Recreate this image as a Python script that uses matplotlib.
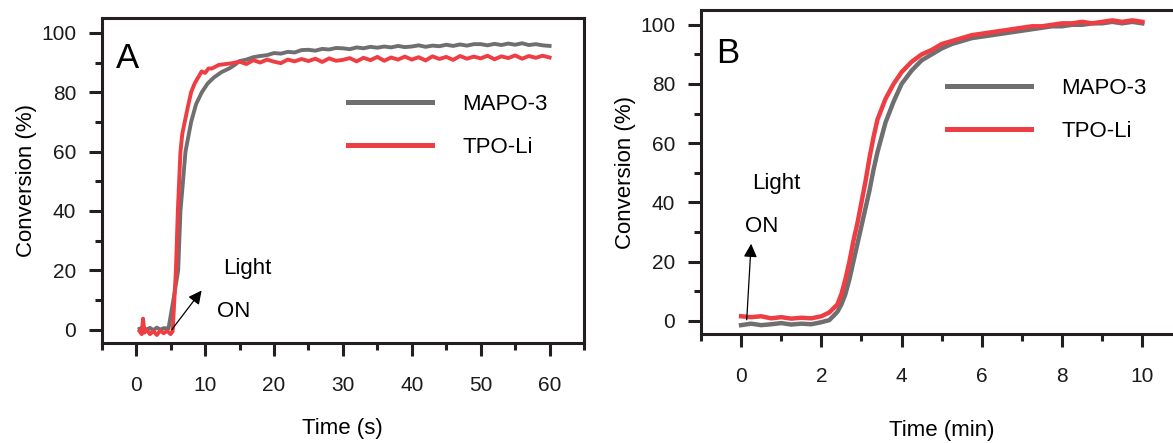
import matplotlib
matplotlib.use("Agg")
import matplotlib.pyplot as plt
from matplotlib.ticker import MultipleLocator

plt.rcParams['font.family'] = ['Liberation Sans', 'DejaVu Sans']

# colours
GRAY = '#6f6f6f'
RED = '#ee3d43'
INK = '#231f20'

## DATA

# panel A, time in s
a_mapo_t = [0.5, 1, 1.5, 2, 2.5, 3, 3.5, 4, 4.7, 5.4, 6.1, 6.43, 6.8, 7.16, 7.98,
            8.7, 9.53, 10.4, 11.3, 12.4, 13.5, 14.3] + list(range(15, 61))
a_mapo_y = [0.3, 0.8, 0, 0.6, -0.2, 0.7, 0, 0.5, 0.4, 10, 20, 40, 50, 60, 70,
            76, 80, 83, 85, 86.8, 88, 89.2,
            90.5, 91, 91.8, 92.2, 92.5, 93.2, 93, 93.6, 93.4, 94.2, 94.3, 94, 94.6,
            94.4, 94.9, 94.8, 94.5, 95.1, 94.8, 95.3, 95, 95.4, 95.1, 95.6, 95.2,
            95.4, 95.8, 95.3, 95.7, 95.5, 96, 95.6, 96.1, 95.7, 96.2, 96.2, 95.8,
            96.3, 95.9, 96.4, 96, 96.5, 95.9, 96.2, 95.8, 95.6]

a_tpo_t = [0.5, 0.8, 1.0, 1.2, 1.5, 2, 2.5, 3, 3.5, 4, 4.5, 5, 5.3, 5.77, 6.05,
           6.43, 6.7, 7.05, 7.5, 7.98, 8.5, 9.0, 9.5, 10, 10.5, 11, 12, 13, 14] + list(range(15, 61))
a_tpo_y = [-0.5, -1.5, 3.7, -1, 0, -1.5, -0.5, -1.8, -0.3, -1.2, -0.4, -1.5, -0.5, 20, 40,
           60, 66, 70, 75, 80, 83, 85, 87, 86.5, 88, 88, 89.2, 89.5, 89.8,
           90.3, 89.5, 90.8, 90, 91, 90.3, 89.8, 91, 90.4, 91.2, 90.5, 91.3, 90.2,
           91.4, 90.6, 90.9, 91.5, 90.4, 91.6, 90.8, 91.9, 90.6, 91.7, 91, 92, 91,
           91.8, 90.7, 92.1, 91.2, 91.9, 90.9, 92.2, 91.3, 92, 91.4, 92.3, 91.1,
           92.1, 91.5, 92.4, 91.3, 92.2, 91.6, 92.3, 91.7]

# panel B, time in min
b_t = [0, 0.25, 0.5, 0.75, 1, 1.25, 1.5, 1.75, 2.0, 2.2, 2.4, 2.5, 2.6, 2.7, 2.8,
       2.9, 3.0, 3.1, 3.2, 3.3, 3.4, 3.6, 3.8, 4.0, 4.25, 4.5, 4.75, 5.0, 5.25,
       5.5, 5.75, 6.0, 6.25, 6.5, 6.75, 7.0, 7.25, 7.5, 7.75, 8.0, 8.25, 8.5,
       8.75, 9.0, 9.25, 9.5, 9.75, 10.0]
b_mapo_y = [-1.5, -1, -1.5, -1.2, -0.8, -1.3, -1.0, -1.2, -0.5, 0.2, 3, 5.5, 9, 14, 20,
            26, 32, 38, 44, 51, 57, 67, 74, 80, 84.5, 88, 90, 92, 93.5,
            94.5, 95.5, 96, 96.5, 97, 97.5, 98, 98.5, 99, 99.5, 99.5, 100, 100,
            100.5, 100.5, 101, 100.5, 101, 100.5]
b_tpo_y = [1.5, 1.2, 1.5, 0.8, 1.2, 0.7, 1.0, 0.8, 1.5, 2.8, 5.5, 9, 14, 20, 27,
           33, 40, 47, 55, 62, 68, 75, 80, 84, 87.5, 90, 91.5, 93.5, 94.5,
           95.5, 96.5, 97, 97.5, 98, 98.5, 99, 99.5, 99.5, 100, 100.5, 100.5, 101,
           100.5, 101, 101.5, 101, 101.5, 101]

labels = ['MAPO-3', 'TPO-Li']

## PLOT HELPERS

def style_axes(ax, xmajor, xminor):
    for s in ax.spines.values():
        s.set_linewidth(2.2)
        s.set_color(INK)
    ax.xaxis.set_major_locator(MultipleLocator(xmajor))
    ax.xaxis.set_minor_locator(MultipleLocator(xminor))
    ax.yaxis.set_major_locator(MultipleLocator(20))
    ax.yaxis.set_minor_locator(MultipleLocator(10))
    ax.tick_params(which='both', direction='out', width=2.2, color=INK,
                   top=False, right=False, labelsize=15, labelcolor='#1a1a1a')
    ax.tick_params(which='major', length=9.5)
    ax.tick_params(which='minor', length=5)
    ax.tick_params(axis='x', which='major', pad=14)
    ax.tick_params(axis='y', which='major', pad=9)
    ax.set_ylim(-4.5, 105)
    ax.set_ylabel('Conversion (%)', fontsize=16, labelpad=3)


def add_legend(ax, anchor):
    leg = ax.legend(labels, loc='center left', bbox_to_anchor=anchor, frameon=False,
                    fontsize=16, handlelength=3.8, handletextpad=1.35,
                    labelspacing=1.0, borderpad=0, borderaxespad=0)
    for l in leg.get_lines():
        l.set_linewidth(3.6)


fig = plt.figure(figsize=(11.73, 4.43), dpi=100)

# panel A
axA = fig.add_axes([0.0867, 0.2257, 0.4112, 0.7336])
axA.plot(a_mapo_t, a_mapo_y, color=GRAY, lw=2.8)
axA.plot(a_tpo_t, a_tpo_y, color=RED, lw=2.8)
style_axes(axA, 10, 5)
axA.set_xlim(-5, 65)
axA.set_xlabel('Time (s)', fontsize=16, labelpad=17)
axA.text(0.03, 0.847, 'A', transform=axA.transAxes, fontsize=25, va='baseline')
add_legend(axA, (0.51, 0.668))
axA.annotate('', xy=(9.5, 13.2), xytext=(5.17, 0),
             arrowprops=dict(arrowstyle='-|>', color='black', lw=0.9,
                             mutation_scale=20, shrinkA=0, shrinkB=0))
axA.text(12.6, 20.7, 'Light', fontsize=16, va='center', ha='left')
axA.text(11.7, 6.2, 'ON', fontsize=16, va='center', ha='left')

# panel B
axB = fig.add_axes([0.5976, 0.2460, 0.4104, 0.7314])
axB.plot(b_t, b_mapo_y, color=GRAY, lw=3.2)
axB.plot(b_t, b_tpo_y, color=RED, lw=3.2)
style_axes(axB, 2, 1)
axB.set_xlim(-1, 11)
axB.set_xlabel('Time (min)', fontsize=16, labelpad=25)
axB.text(0.032, 0.836, 'B', transform=axB.transAxes, fontsize=25, va='baseline')
add_legend(axB, (0.511, 0.691))
axB.annotate('', xy=(0.25, 26), xytext=(0.14, 0.3),
             arrowprops=dict(arrowstyle='-|>', color='black', lw=0.9,
                             mutation_scale=20, shrinkA=0, shrinkB=0))
axB.text(0.27, 46.5, 'Light', fontsize=16, va='center', ha='left')
axB.text(0.1, 31.8, 'ON', fontsize=16, va='center', ha='left')

fig.savefig('out.png', dpi=100)
